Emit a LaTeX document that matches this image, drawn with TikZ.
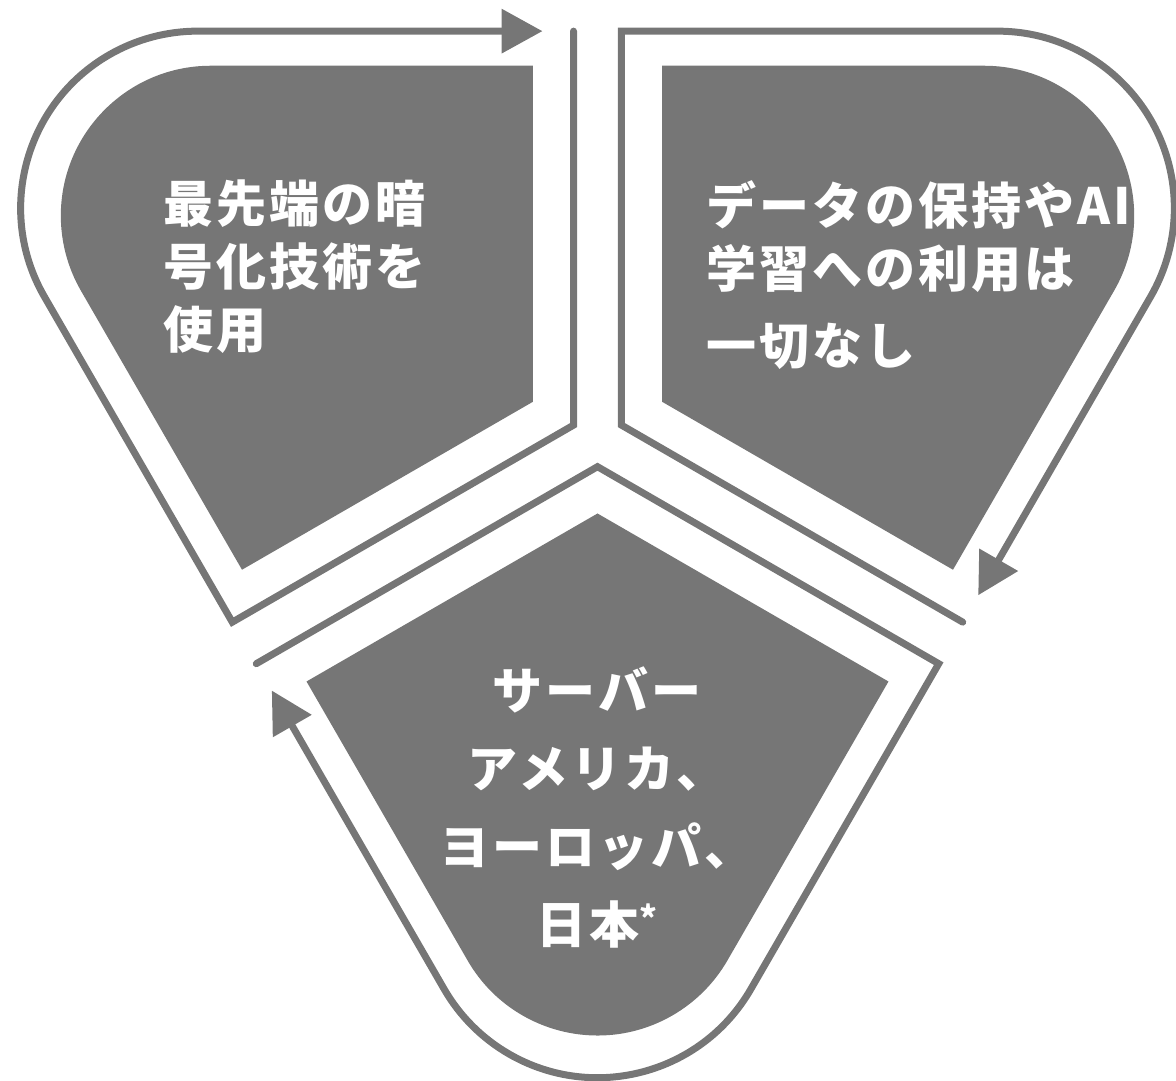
\documentclass[tikz,border=0pt]{standalone}
\usepackage{fontspec}
\newfontfamily\jpfont{Noto Sans CJK JP}[LetterSpace=6]
\usetikzlibrary{calc,arrows.meta}
\definecolor{petalgray}{RGB}{118,118,118}

\tikzset{
  petal/.style={fill=petalgray},
  loopline/.style={draw=petalgray, line width=7pt, line cap=round,
    -{Triangle[length=41pt,width=43pt]}},
  petaltext/.style={text=white, inner sep=0pt}
}

\begin{document}
\begin{tikzpicture}[x=1pt,y=1pt]
\useasboundingbox (0,0) rectangle (1176,1081);
\coordinate (mid) at (597.5,642);

% three petals and the arrows round them
\foreach \t in {150,30,270}{
\fill[petal] ($(mid)+(\t:74.5)$) -- ($(mid)+(\t:74.5)+(\t-60:336)$)
  -- ($(mid)+(\t:74.5)+(\t:372)+(\t-60:150)$) arc[start angle=\t-60, end angle=\t+60, radius=150]
  -- ($(mid)+(\t:74.5)+(\t+60:336)$) -- cycle;
\draw[loopline] ($(mid)+(\t:27.7)+(\t-60:394)$) -- ($(mid)+(\t:27.7)$)
  -- ($(mid)+(\t:27.7)+(\t+60:394)$)
  -- ($(mid)+(\t:27.7)+(\t:434)+(\t+60:177)$) arc[start angle=\t+60, end angle=\t-60, radius=177]
  -- ($(mid)+(\t:27.7)+(\t-60:394)+(\t+30:31)$);
}

\node[petaltext, anchor=north west, align=left, font=\jpfont\bfseries\fontsize{50}{63}\selectfont]
  (crypto) at (163,901) {最先端の暗\\号化技術を\\使用};
\node[petaltext, anchor=north west, align=left, font=\jpfont\bfseries\fontsize{50}{63}\selectfont]
  (nodata) at (706,901) {データの保持やAI\\学習への利用は\\[14pt]一切なし};
\node[petaltext, anchor=north, align=center, font=\jpfont\bfseries\fontsize{50}{78}\selectfont]
  (server) at (597,414) {サーバー\\アメリカ、\\ヨーロッパ、\\日本\raisebox{12pt}{\fontsize{34}{34}\selectfont*}};

\end{tikzpicture}
\end{document}
